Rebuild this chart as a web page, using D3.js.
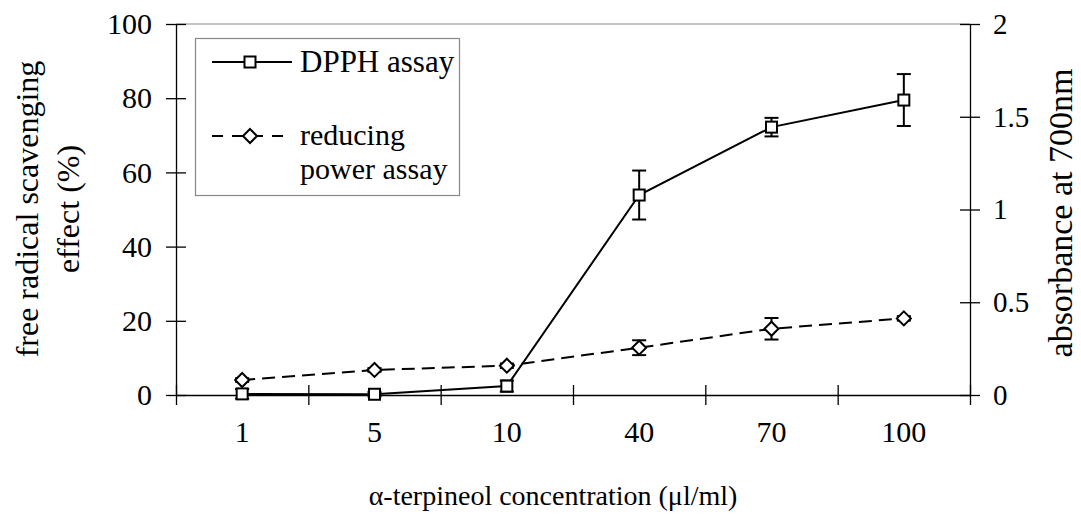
<!DOCTYPE html>
<html>
<head>
<meta charset="utf-8">
<script src="https://cdn.jsdelivr.net/npm/d3@7"></script>
<style>
  body { margin: 0; background: #fff; }
  svg text { font-family: "Liberation Serif", "Times New Roman", Times, serif; fill: #000; }
</style>
</head>
<body>
<svg id="chart" width="1081" height="520"></svg>
<script>
// concentrations on the x axis
const concentrations = ['1', '5', '10', '40', '70', '100'];

// DPPH assay, free radical scavenging effect (%), left axis
const dpphValues = [0.3, 0.2, 2.4, 53.9, 72.2, 79.5];
const dpphErrors = [1.3, 0.6, 1.5, 6.6, 2.5, 7.0];

// reducing power assay, absorbance at 700nm, right axis
const reducingValues = [0.081, 0.135, 0.158, 0.255, 0.357, 0.413];
const reducingErrors = [0.01, 0.01, 0.012, 0.04, 0.058, 0.012];

const leftTicks = [0, 20, 40, 60, 80, 100];
const rightTicks = [0, 0.5, 1, 1.5, 2];

const svg = d3.select('#chart');

const plotLeft = 176, plotRight = 970, plotTop = 24, plotBottom = 395;

const x = d3.scaleBand().domain(concentrations).range([plotLeft, plotRight]);
const xEdges = d3.scaleLinear().domain([0, concentrations.length]).range([plotLeft, plotRight]);
const yLeft = d3.scaleLinear().domain([0, 100]).range([plotBottom, plotTop]);
const yRight = d3.scaleLinear().domain([0, 2]).range([plotBottom, plotTop]);
const cx = (i) => x(concentrations[i]) + x.bandwidth() / 2;

const styleAxis = (size) => (g) => {
  g.attr('font-family', null).attr('font-size', null);
  g.select('.domain').attr('stroke', '#000').attr('stroke-width', 1.3);
  g.selectAll('.tick line').attr('stroke-width', 1.3);
  g.selectAll('.tick text').attr('font-size', size);
};

// top border of plot area
svg.append('line')
  .attr('x1', plotLeft).attr('x2', plotRight)
  .attr('y1', plotTop).attr('y2', plotTop)
  .attr('stroke', '#888').attr('stroke-width', 1.2);

// left axis
svg.append('g')
  .attr('transform', `translate(${plotLeft},0)`)
  .call(d3.axisLeft(yLeft).tickValues(leftTicks).tickSize(10).tickSizeOuter(0).tickPadding(14))
  .call(styleAxis('30px'))
  .call((g) => g.selectAll('.tick line').attr('x1', 10));

// right axis
svg.append('g')
  .attr('transform', `translate(${plotRight},0)`)
  .call(d3.axisRight(yRight).tickValues(rightTicks).tickSize(10).tickSizeOuter(0).tickPadding(13)
    .tickFormat((d) => String(d)))
  .call(styleAxis('29px'))
  .call((g) => g.selectAll('.tick line').attr('x1', -10));

// bottom axis: ticks at band edges
svg.append('g')
  .attr('transform', `translate(0,${plotBottom})`)
  .call(d3.axisBottom(xEdges).ticks(6).tickSize(10).tickSizeOuter(0).tickFormat(''))
  .call(styleAxis('30px'))
  .call((g) => g.selectAll('.tick line').attr('y1', -10));

// bottom axis: labels at band centres
svg.append('g')
  .attr('transform', `translate(0,${plotBottom})`)
  .call(d3.axisBottom(x).tickSize(0).tickPadding(26))
  .call(styleAxis('30px'))
  .call((g) => g.select('.domain').remove());

// axis titles
const leftTitle = svg.append('text')
  .attr('transform', 'translate(0,209) rotate(-90)')
  .attr('text-anchor', 'middle')
  .attr('font-size', '32px');
leftTitle.append('tspan').attr('x', 0).attr('y', 38).text('free radical scavenging');
leftTitle.append('tspan').attr('x', 0).attr('y', 79).text('effect (%)');

svg.append('text')
  .attr('transform', 'translate(1072,213) rotate(-90)')
  .attr('text-anchor', 'middle')
  .attr('font-size', '34px')
  .text('absorbance at 700nm');

svg.append('text')
  .attr('x', 553).attr('y', 505)
  .attr('text-anchor', 'middle')
  .attr('font-size', '28px')
  .text('α-terpineol concentration (μl/ml)');

// series
const drawErrorBars = (values, errors, y) => {
  const g = svg.append('g').attr('stroke', '#000').attr('stroke-width', 2);
  values.forEach((v, i) => {
    const px = cx(i);
    g.append('line').attr('x1', px).attr('x2', px).attr('y1', y(v - errors[i])).attr('y2', y(v + errors[i]));
    [v - errors[i], v + errors[i]].forEach((e) => {
      g.append('line').attr('x1', px - 7).attr('x2', px + 7).attr('y1', y(e)).attr('y2', y(e));
    });
  });
};

const squareMarker = (sel, px, py) => sel.append('rect')
  .attr('x', px - 5.5).attr('y', py - 5.5).attr('width', 11).attr('height', 11)
  .attr('fill', '#fff').attr('stroke', '#000').attr('stroke-width', 2);

const diamondMarker = (sel, px, py) => sel.append('path')
  .attr('d', `M${px},${py - 7}L${px + 7},${py}L${px},${py + 7}L${px - 7},${py}Z`)
  .attr('fill', '#fff').attr('stroke', '#000').attr('stroke-width', 2);

// reducing power (dashed)
drawErrorBars(reducingValues, reducingErrors, yRight);
svg.append('path')
  .datum(reducingValues)
  .attr('fill', 'none').attr('stroke', '#000').attr('stroke-width', 2)
  .attr('stroke-dasharray', '13,7')
  .attr('d', d3.line().x((d, i) => cx(i)).y((d) => yRight(d)));
const reducingMarks = svg.append('g');
reducingValues.forEach((v, i) => diamondMarker(reducingMarks, cx(i), yRight(v)));

// DPPH (solid)
drawErrorBars(dpphValues, dpphErrors, yLeft);
svg.append('path')
  .datum(dpphValues)
  .attr('fill', 'none').attr('stroke', '#000').attr('stroke-width', 2)
  .attr('d', d3.line().x((d, i) => cx(i)).y((d) => yLeft(d)));
const dpphMarks = svg.append('g');
dpphValues.forEach((v, i) => squareMarker(dpphMarks, cx(i), yLeft(v)));

// legend
const legend = svg.append('g');
legend.append('rect')
  .attr('x', 195.5).attr('y', 38.5).attr('width', 264).attr('height', 157)
  .attr('fill', '#fff').attr('stroke', '#888').attr('stroke-width', 1.2);

legend.append('line')
  .attr('x1', 212).attr('x2', 292).attr('y1', 62).attr('y2', 62)
  .attr('stroke', '#000').attr('stroke-width', 2);
squareMarker(legend, 250, 62);
legend.append('text').attr('x', 300).attr('y', 72).attr('font-size', '31px').text('DPPH assay');

legend.append('line')
  .attr('x1', 212).attr('x2', 292).attr('y1', 136).attr('y2', 136)
  .attr('stroke', '#000').attr('stroke-width', 2)
  .attr('stroke-dasharray', '11,9');
diamondMarker(legend, 250, 136);
legend.append('text').attr('x', 300).attr('y', 145).attr('font-size', '30px').text('reducing');
legend.append('text').attr('x', 300).attr('y', 179).attr('font-size', '30px').text('power assay');
</script>
</body>
</html>
